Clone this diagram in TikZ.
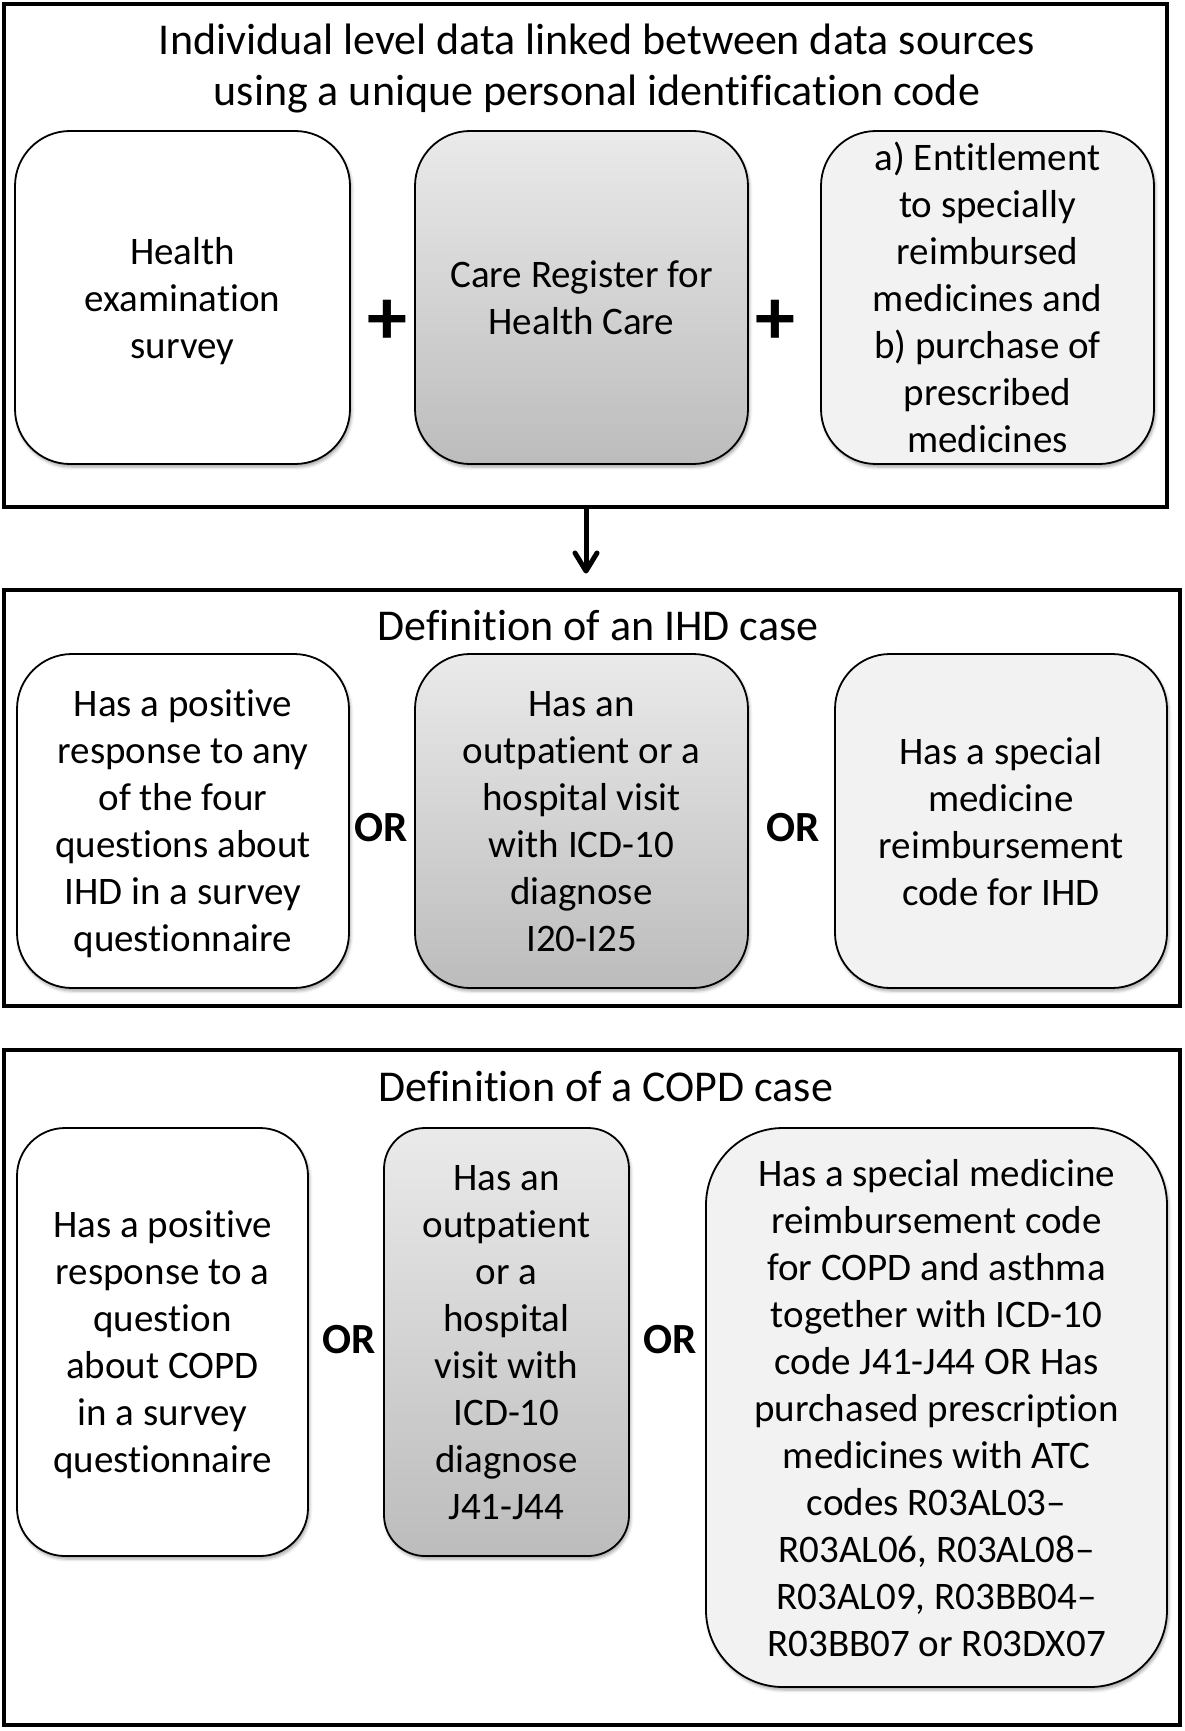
\documentclass[tikz,border=0pt]{standalone}
\usepackage{fontspec}
\setmainfont[Ligatures={CommonOff,ContextualOff}]{Carlito}
\usetikzlibrary{arrows.meta,shadows.blur}
\definecolor{gtop}{RGB}{234,234,234}
\definecolor{gbot}{RGB}{188,188,188}
\definecolor{lgray}{RGB}{242,242,242}
\begin{document}
\begin{tikzpicture}[x=1pt,y=-1pt,
  frame/.style={draw, line width=4.5pt},
  rbox/.style={draw, line width=1.8pt, align=center, inner sep=0pt, text depth=0pt,
    font=\fontsize{39}{47}\selectfont,
    blur shadow={shadow xshift=1.5pt, shadow yshift=-3pt, shadow blur radius=3pt, shadow opacity=35}},
  wbox/.style={rbox, fill=white},
  gbox/.style={rbox, top color=gtop, bottom color=gbot},
  lbox/.style={rbox, fill=lgray},
  ttl/.style={align=center, inner sep=0pt, text depth=0pt, font=\fontsize{44}{51}\selectfont},
  orlab/.style={inner sep=0pt, font=\fontsize{43}{47}\selectfont\bfseries},
  pluslab/.style={inner sep=0pt, font=\fontsize{80}{80}\selectfont\bfseries},
  flowline/.style={line width=5pt},
  flowtip/.style={line width=5pt, line cap=round, line join=round}
]
\useasboundingbox (0,0) rectangle (1184,1731);
% ---------- section 1 ----------
\node[frame, minimum width=1163pt, minimum height=503pt, inner sep=0pt] (f1) at (585.5,255.5) {};
\node[ttl] (t1) at (597,65) {Individual level data linked between data sources\\using a unique personal identification code};
\node[wbox, minimum width=335pt, minimum height=333pt, rounded corners=55pt] (h1) at (182.5,297.5) {Health\\examination\\survey};
\node[gbox, minimum width=333pt, minimum height=333pt, rounded corners=55pt] (c1) at (581.5,297.5) {Care Register for\\Health Care};
\node[lbox, minimum width=333pt, minimum height=333pt, rounded corners=55pt] (e1) at (987.5,297.5) {a) Entitlement\\to specially\\reimbursed\\medicines and\\b) purchase of\\prescribed\\medicines};
\node[pluslab] (p1) at (387,322) {+};
\node[pluslab] (p2) at (775,322) {+};
% ---------- section 2 ----------
\node[frame, minimum width=1176pt, minimum height=416pt, inner sep=0pt] (f2) at (592,798) {};
\node[ttl] (t2) at (598,625) {Definition of an IHD case};
\node[wbox, minimum width=332pt, minimum height=334pt, rounded corners=55pt] (a2) at (183,821) {Has a positive\\response to any\\of the four\\questions about\\IHD in a survey\\questionnaire};
\node[gbox, minimum width=333pt, minimum height=334pt, rounded corners=55pt] (b2) at (581.5,821) {Has an\\outpatient or a\\hospital visit\\with ICD-10\\diagnose\\I20-I25};
\node[lbox, minimum width=332pt, minimum height=334pt, rounded corners=55pt] (c2) at (1001,821) {Has a special\\medicine\\reimbursement\\code for IHD};
\node[orlab] (o21) at (381,828) {OR};
\node[orlab] (o22) at (793,828) {OR};
% ---------- section 3 ----------
\node[frame, minimum width=1176pt, minimum height=675pt, inner sep=0pt] (f3) at (592,1387.5) {};
\node[ttl] (t3) at (606,1086) {Definition of a COPD case};
\node[wbox, minimum width=291pt, minimum height=428pt, rounded corners=48pt] (a3) at (162.5,1342) {Has a positive\\response to a\\question\\about COPD\\in a survey\\questionnaire};
\node[gbox, minimum width=245pt, minimum height=428pt, rounded corners=41pt] (b3) at (506.5,1342) {Has an\\outpatient\\or a\\hospital\\visit with\\ICD-10\\diagnose\\J41-J44};
\node[lbox, minimum width=461pt, minimum height=559pt, rounded corners=77pt] (c3) at (936.5,1407.5) {Has a special medicine\\reimbursement code\\for COPD and asthma\\together with ICD-10\\code J41-J44 OR Has\\purchased prescription\\medicines with ATC\\codes R03AL03–\\R03AL06, R03AL08–\\R03AL09, R03BB04–\\R03BB07 or R03DX07};
\node[orlab] (o31) at (349,1340) {OR};
\node[orlab] (o32) at (670,1340) {OR};
% ---------- connector ----------
\coordinate (arrEnd) at (586,571);
\coordinate (arrStart) at (586,507);
\draw[flowline] (f1.south -| arrStart) -- ([yshift=1pt]arrEnd);
\draw[flowtip] ([xshift=-11pt,yshift=18pt]arrEnd) -- (arrEnd) -- ([xshift=11pt,yshift=18pt]arrEnd);
\end{tikzpicture}
\end{document}
